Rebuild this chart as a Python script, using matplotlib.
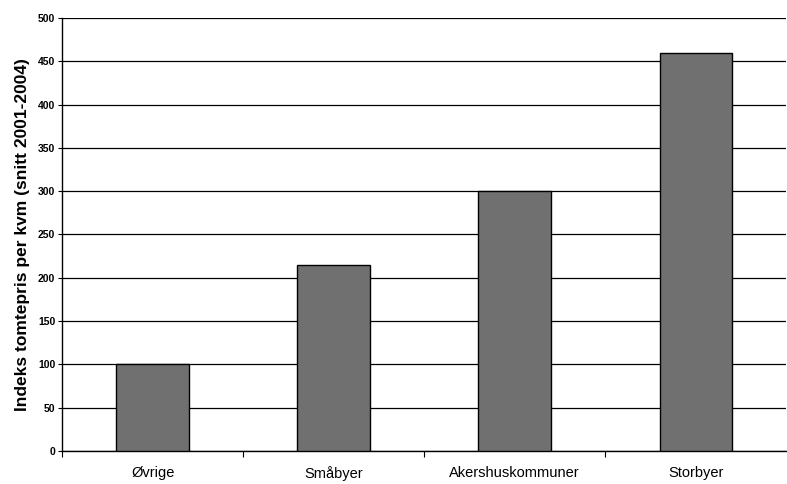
import numpy as np
import matplotlib
matplotlib.use("Agg")
import matplotlib.pyplot as plt

categories = ["Øvrige", "Småbyer", "Akershuskommuner", "Storbyer"]
values = [100, 215, 300, 460]
yticks = list(range(0, 501, 50))

plt.rcParams["font.family"] = ["Liberation Sans", "DejaVu Sans"]

fig = plt.figure(figsize=(7.87, 4.84), dpi=100)
ax = fig.add_axes([0.079, 0.068, 0.92, 0.895])

x = np.arange(len(categories))
ax.bar(x, values, width=0.4, color="#707070", edgecolor="black", linewidth=1.0, zorder=3)

ax.set_xlim(-0.5, len(categories) - 0.5)
ax.set_ylim(0, 500)
ax.set_yticks(yticks)
ax.set_yticklabels([str(v) for v in yticks], fontsize=7.5, fontweight="bold")
ax.yaxis.grid(True, color="black", linewidth=0.9, zorder=0)

ax.set_xticks(x)
ax.set_xticklabels(categories, fontsize=10.5)
ax.tick_params(axis="x", which="major", length=0, pad=11)
ax.set_xticks(np.arange(-0.5, len(categories) - 0.5, 1.0), minor=True)
ax.tick_params(axis="x", which="minor", length=4, width=0.8, direction="out")
ax.tick_params(axis="y", length=3, width=0.8, pad=2)

for side in ["top", "right"]:
    ax.spines[side].set_visible(False)
ax.spines["left"].set_linewidth(1.0)
ax.spines["bottom"].set_linewidth(1.0)

ax.set_ylabel("Indeks tomtepris per kvm (snitt 2001-2004)", fontsize=12.5,
              fontweight="bold", labelpad=6)

fig.savefig("out.png", dpi=100)
